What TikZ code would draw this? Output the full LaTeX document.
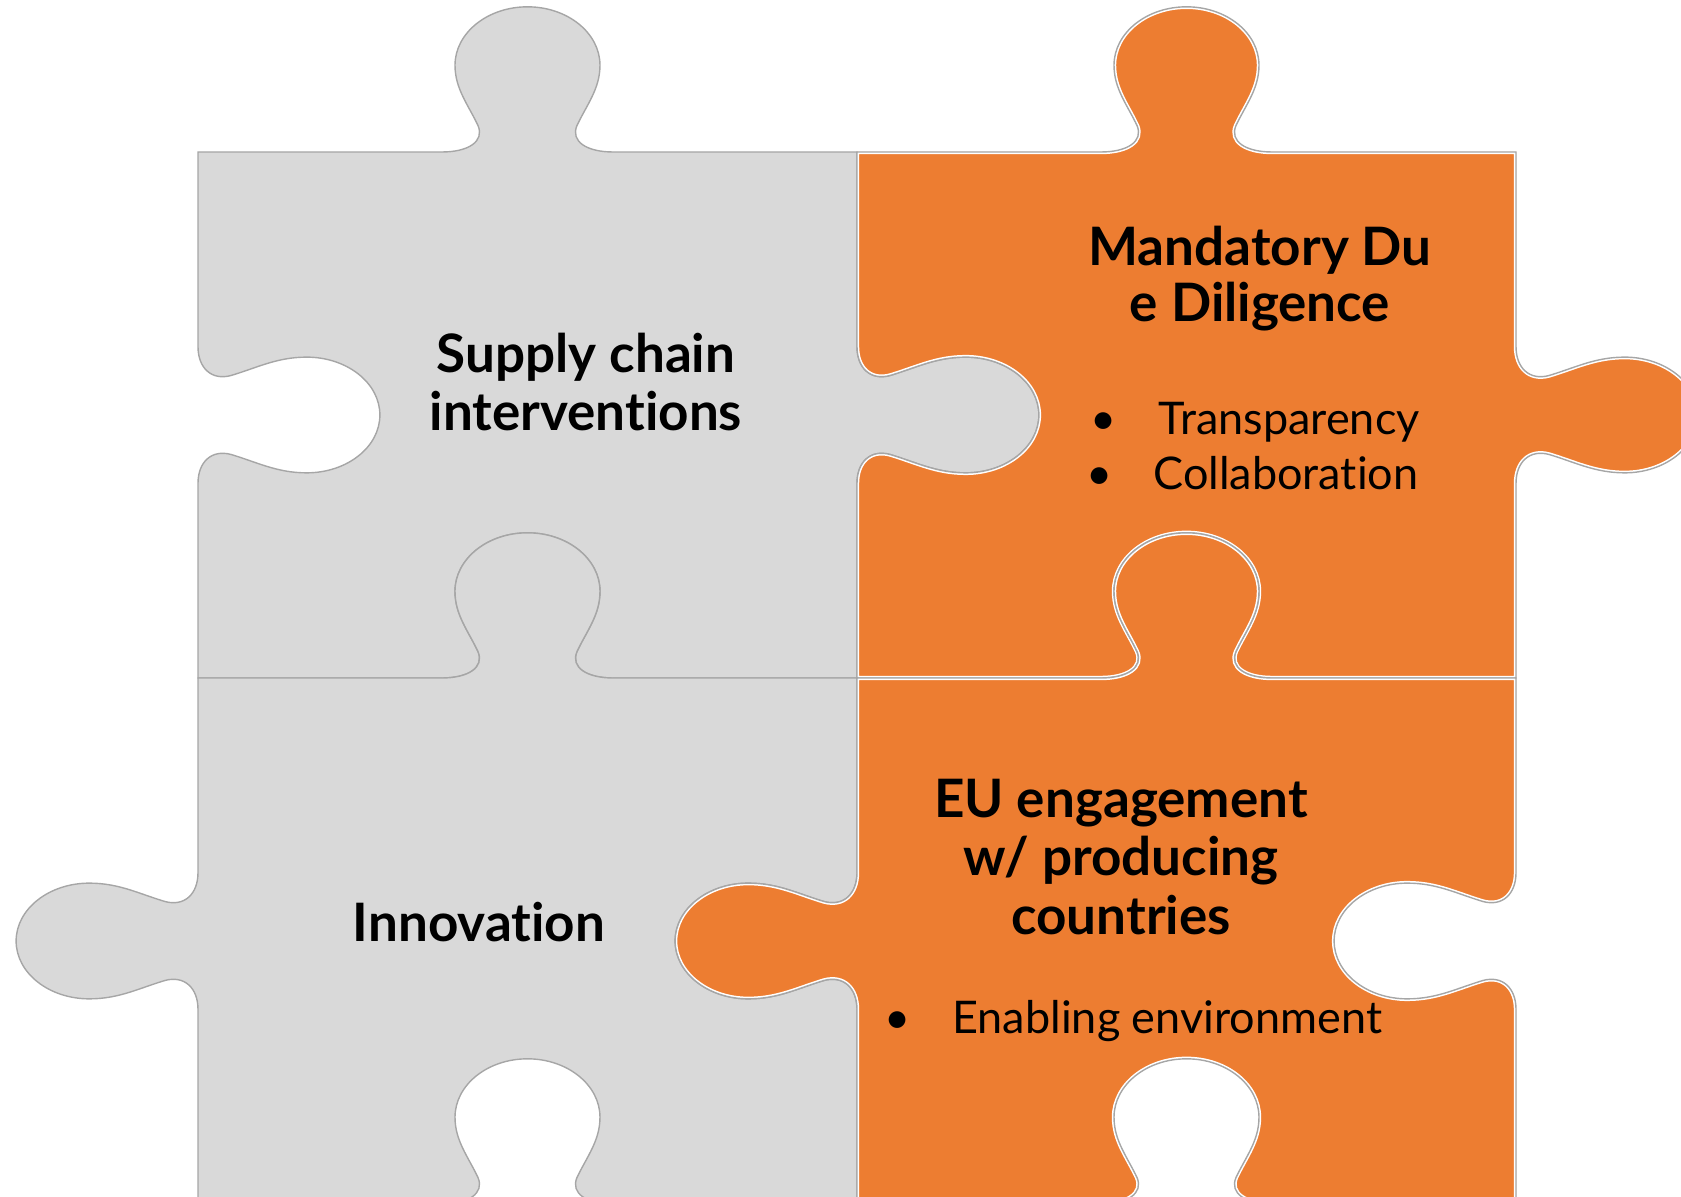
\documentclass[tikz,border=0pt]{standalone}
\usepackage{fontspec}
\setmainfont{Lato}[Ligatures={NoCommon,NoContextual,NoRequired}]
\definecolor{pzgray}{HTML}{D9D9D9}
\definecolor{pzorange}{HTML}{ED7D31}
\definecolor{pzline}{HTML}{A6A6A6}
% point on an edge: start (#1,#2), direction (#3,#4), outward normal (#5,#6), sign #7, position t=#8, depth d=#9
\newcommand\PT[9]{({#1+(#8)*(#3)+(#9)*(#7)*(#5)},{#2+(#8)*(#4)+(#9)*(#7)*(#6)})}
\newcommand\EDGE[7]{-- \PT{#1}{#2}{#3}{#4}{#5}{#6}{#7}{0.37}{0}
 .. controls \PT{#1}{#2}{#3}{#4}{#5}{#6}{#7}{0.41}{0} and \PT{#1}{#2}{#3}{#4}{#5}{#6}{#7}{0.435}{0.02} .. \PT{#1}{#2}{#3}{#4}{#5}{#6}{#7}{0.425}{0.05}
 .. controls \PT{#1}{#2}{#3}{#4}{#5}{#6}{#7}{0.41}{0.09} and \PT{#1}{#2}{#3}{#4}{#5}{#6}{#7}{0.39}{0.12} .. \PT{#1}{#2}{#3}{#4}{#5}{#6}{#7}{0.39}{0.165}
 .. controls \PT{#1}{#2}{#3}{#4}{#5}{#6}{#7}{0.39}{0.226} and \PT{#1}{#2}{#3}{#4}{#5}{#6}{#7}{0.439}{0.276} .. \PT{#1}{#2}{#3}{#4}{#5}{#6}{#7}{0.5}{0.276}
 .. controls \PT{#1}{#2}{#3}{#4}{#5}{#6}{#7}{0.561}{0.276} and \PT{#1}{#2}{#3}{#4}{#5}{#6}{#7}{0.61}{0.226} .. \PT{#1}{#2}{#3}{#4}{#5}{#6}{#7}{0.61}{0.165}
 .. controls \PT{#1}{#2}{#3}{#4}{#5}{#6}{#7}{0.61}{0.12} and \PT{#1}{#2}{#3}{#4}{#5}{#6}{#7}{0.59}{0.09} .. \PT{#1}{#2}{#3}{#4}{#5}{#6}{#7}{0.575}{0.05}
 .. controls \PT{#1}{#2}{#3}{#4}{#5}{#6}{#7}{0.565}{0.02} and \PT{#1}{#2}{#3}{#4}{#5}{#6}{#7}{0.59}{0} .. \PT{#1}{#2}{#3}{#4}{#5}{#6}{#7}{0.63}{0}
 -- \PT{#1}{#2}{#3}{#4}{#5}{#6}{#7}{1}{0}}
% piece in unit square (image orientation): top, right, bottom, left (+1 tab, -1 blank)
\newcommand\PIECE[4]{(0,0) \EDGE{0}{0}{1}{0}{0}{-1}{#1} \EDGE{1}{0}{0}{1}{1}{0}{#2} \EDGE{1}{1}{-1}{0}{0}{1}{#3} \EDGE{0}{1}{0}{-1}{-1}{0}{#4} -- cycle}
\tikzset{
  piecepos/.style={shift={#1}, xscale=659, yscale=526},
  outline/.style={draw=pzline, line width=0.7pt},
  head/.style={font=\fontsize{26.5}{31}\selectfont\bfseries, text=black, inner sep=0pt},
  item/.style={font=\fontsize{22.5}{27}\selectfont, text=black, inner sep=0pt},
}
\begin{document}
\begin{tikzpicture}[x=0.5pt, y=-0.5pt]
\useasboundingbox (0,0) rectangle (1681,1197);
\clip (0,0) rectangle (1681,1197);
% gray pieces
\begin{scope}[piecepos={(198,152)}]
  \fill[pzgray] \PIECE{1}{1}{-1}{-1};
  \draw[outline] \PIECE{1}{1}{-1}{-1};
\end{scope}
\begin{scope}[piecepos={(198,678)}]
  \fill[pzgray] \PIECE{1}{-1}{-1}{1};
  \draw[outline] \PIECE{1}{-1}{-1}{1};
\end{scope}
% orange pieces
\begin{scope}[piecepos={(857,152)}]
  \fill[pzorange] \PIECE{1}{1}{-1}{-1};
  \begin{scope}
    \clip \PIECE{1}{1}{-1}{-1};
    \draw[white, line width=2.2pt] \PIECE{1}{1}{-1}{-1};
  \end{scope}
  \draw[outline] \PIECE{1}{1}{-1}{-1};
\end{scope}
\begin{scope}[piecepos={(857,678)}]
  \fill[pzorange] \PIECE{1}{-1}{-1}{1};
  \begin{scope}
    \clip \PIECE{1}{-1}{-1}{1};
    \draw[white, line width=2.2pt] \PIECE{1}{-1}{-1}{1};
  \end{scope}
  \draw[outline] \PIECE{1}{-1}{-1}{1};
\end{scope}
% texts
\node[head, anchor=base] (sc1) at (586,373) {Supply chain};
\node[head, anchor=base] (sc2) at (586,431) {interventions};
\node[head, anchor=base] (md1) at (1260,266) {Mandatory Du};
\node[head, anchor=base] (md2) at (1260,322) {e Diligence};
\node[item, anchor=base] (b1) at (1104,435) {•};
\node[item, anchor=base west] (t1) at (1158,435) {Transparency};
\node[item, anchor=base] (b2) at (1100,490) {•};
\node[item, anchor=base west] (t2) at (1153,490) {Collaboration};
\node[head, anchor=base] (inn) at (479,941) {Innovation};
\node[head, anchor=base] (eu1) at (1121,817) {EU engagement};
\node[head, anchor=base] (eu2) at (1121,875) {w/ producing};
\node[head, anchor=base] (eu3) at (1121,934) {countries};
\node[item, anchor=base] (b3) at (898,1033) {•};
\node[item, anchor=base west] (t3) at (952,1033) {Enabling environment};
\end{tikzpicture}
\end{document}
